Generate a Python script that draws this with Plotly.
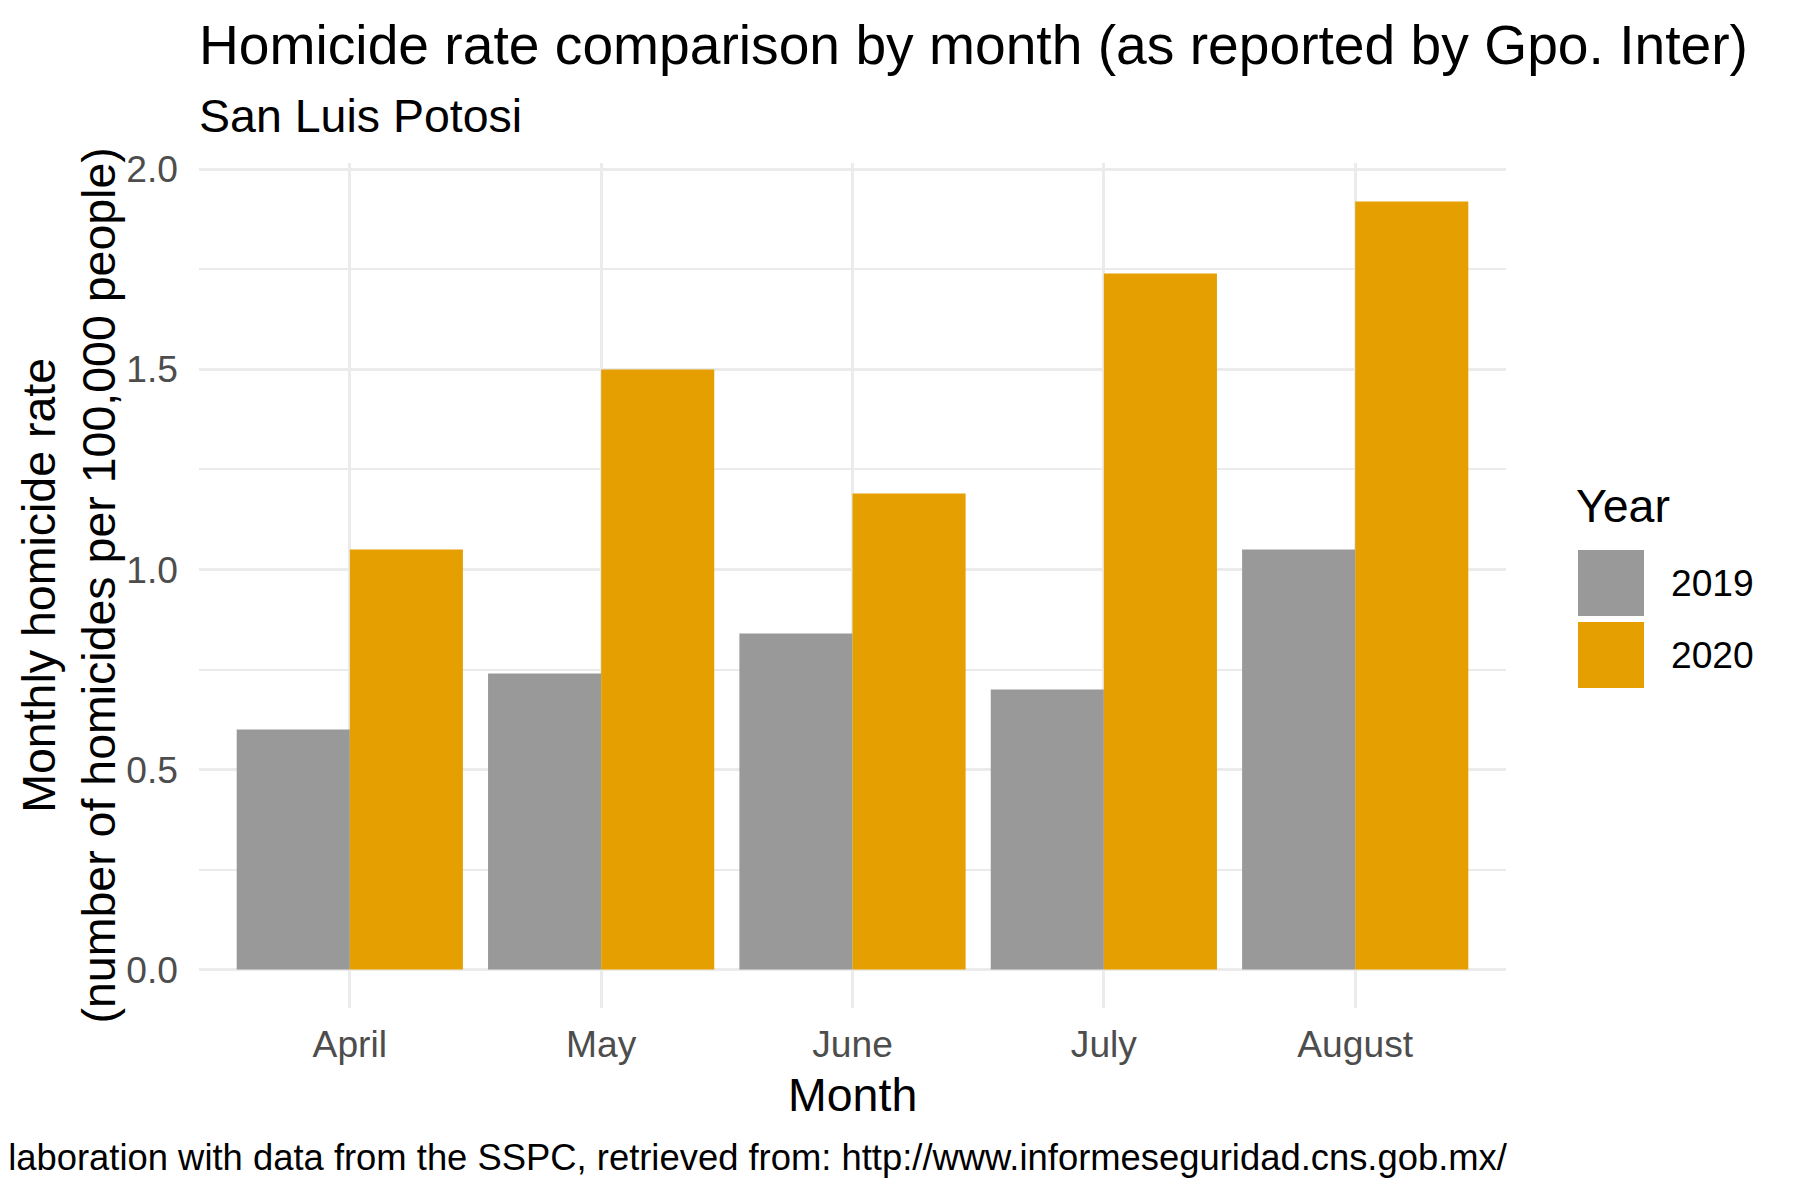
import plotly.graph_objects as go

# data
months = ["April", "May", "June", "July", "August"]
years = ["2019", "2020"]
rate_2019 = [0.60, 0.74, 0.84, 0.70, 1.05]
rate_2020 = [1.05, 1.50, 1.19, 1.74, 1.92]
y_ticks = [0.0, 0.5, 1.0, 1.5, 2.0]

colores = {"2019": "#999999", "2020": "#E69F00"}
FONT = "Liberation Sans, Arial, sans-serif"
BASE, SMALL, BIG = 46.5, 37.2, 55.2

# the page body adds an 8px offset, so positions below are in window pixels
OFF = 8
W_FIG, H_FIG = 1800, 1200
L, T = 199 - OFF, 163 - OFF
R = W_FIG - (1506 - OFF)
B = H_FIG - (1008 - OFF)
W = W_FIG - L - R
H = H_FIG - T - B


def px_x(p):
    return (p - OFF - L) / W


def px_y(p):
    return 1 - (p - OFF - T) / H


fig = go.Figure()
for ano, valores in zip(years, [rate_2019, rate_2020]):
    fig.add_trace(go.Bar(
        x=months, y=valores, name=ano,
        marker=dict(color=colores[ano], line=dict(width=0)),
        showlegend=False,
    ))

anot = []
# title and subtitle
anot.append(dict(text="Homicide rate comparison by month (as reported by Gpo. Inter)",
                 x=px_x(197), y=px_y(45), xanchor="left", yanchor="middle",
                 font=dict(size=BIG, color="black")))
anot.append(dict(text="San Luis Potosi", x=px_x(197), y=px_y(116),
                 xanchor="left", yanchor="middle", font=dict(size=BASE, color="black")))
# axis titles
anot.append(dict(text="Month", x=0.5, y=px_y(1095), xanchor="center", yanchor="middle",
                 font=dict(size=BASE, color="black")))
anot.append(dict(text="Monthly homicide rate<br>(number of homicides per 100,000 people)",
                 x=px_x(68), y=0.5, xanchor="center", yanchor="middle", textangle=-90,
                 font=dict(size=BASE, color="black")))
# caption, cut on the left like the original
anot.append(dict(text="Own elaboration with data from the SSPC, retrieved from: http://www.informeseguridad.cns.gob.mx/",
                 x=px_x(1510), y=px_y(1157), xanchor="right", yanchor="middle",
                 font=dict(size=36.4, color="black")))

# hand-built legend with big square keys
anot.append(dict(text="Year", x=px_x(1574), y=px_y(506), xanchor="left", yanchor="middle",
                 font=dict(size=BASE, color="black")))
formas = []
y_keys = [(550, 616), (622, 688)]
for ano, (y0, y1) in zip(years, y_keys):
    formas.append(dict(type="rect", xref="paper", yref="paper",
                       x0=px_x(1578), x1=px_x(1644), y0=px_y(y1), y1=px_y(y0),
                       fillcolor=colores[ano], line=dict(width=0), layer="above"))
    anot.append(dict(text=ano, x=px_x(1669), y=px_y((y0 + y1) / 2), xanchor="left",
                     yanchor="middle", font=dict(size=SMALL, color="black")))

for a in anot:
    a.update(xref="paper", yref="paper", showarrow=False)

fig.update_layout(
    width=W_FIG, height=H_FIG,
    margin=dict(l=L, r=R, t=T, b=B),
    barmode="group", bargap=0.1, bargroupgap=0,
    plot_bgcolor="white", paper_bgcolor="white",
    font=dict(family=FONT, color="black"),
    annotations=anot, shapes=formas,
    showlegend=False,
)
fig.update_xaxes(
    range=[-0.6, 4.6], showgrid=True, gridcolor="#EBEBEB", gridwidth=3,
    zeroline=False, showline=False, ticks="",
    tickfont=dict(size=SMALL, color="#4D4D4D"), ticklabelstandoff=11,
)
fig.update_yaxes(
    range=[-0.096, 2.016], tickvals=y_ticks, tickformat=".1f",
    showgrid=True, gridcolor="#EBEBEB", gridwidth=3,
    minor=dict(dtick=0.25, showgrid=True, gridcolor="#EBEBEB", gridwidth=1.5),
    zeroline=False, showline=False, ticks="",
    tickfont=dict(size=SMALL, color="#4D4D4D"), ticklabelstandoff=20,
)

fig.write_html("out.html")
